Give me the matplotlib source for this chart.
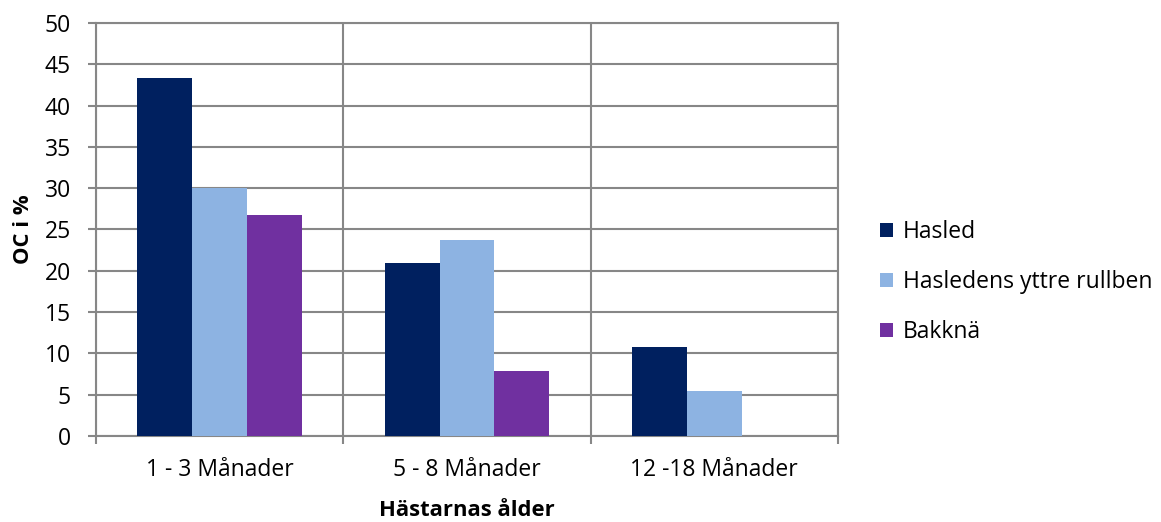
import matplotlib
matplotlib.use("Agg")
import matplotlib.pyplot as plt
import numpy as np

categories = ["1 - 3 Månader", "5 - 8 Månader", "12 -18 Månader"]
series_names = ["Hasled", "Hasledens yttre rullben", "Bakknä"]
hasled = [43.3, 21.0, 10.8]
yttre_rullben = [30.0, 23.7, 5.4]
bakkna = [26.7, 7.9, 0.0]
colors = ["#00205F", "#8DB3E2", "#7030A0"]

plt.rcParams['font.family'] = ['Open Sans', 'DejaVu Sans']

fig = plt.figure(figsize=(11.61, 5.22), dpi=100)
ax = fig.add_axes([96/1161, 86/522, (838-96)/1161, (436-23)/522])

x = np.arange(len(categories))
w = 1/4.5
grid_c = "#878787"
for i, (vals, name, c) in enumerate(zip([hasled, yttre_rullben, bakkna], series_names, colors)):
    ax.bar(x + (i-1)*w, vals, width=w, color=c, label=name, zorder=3)

fs = 16.5
ax.set_xlim(-0.5, len(categories)-0.5)
ax.set_ylim(0, 50)
ax.set_yticks(np.arange(0, 51, 5))
ax.set_xticks(x)
ax.set_xticklabels(categories, fontsize=fs)
ax.set_xticks(np.arange(-0.5, len(categories), 1), minor=True)
ax.tick_params(axis='x', which='major', length=0, pad=16)
ax.tick_params(axis='x', which='minor', length=6, width=1.5, color=grid_c, direction='out')
ax.tick_params(axis='y', length=6, width=1.5, color=grid_c, labelsize=fs, pad=12)
ax.grid(axis='y', which='major', color=grid_c, linewidth=1.5, zorder=0)
ax.grid(axis='x', which='minor', color=grid_c, linewidth=1.5, zorder=0)
ax.set_axisbelow(True)
for s in ax.spines.values():
    s.set_color(grid_c)
    s.set_linewidth(1.5)

ax.set_ylabel("OC i %", fontsize=15.8, fontweight='bold', labelpad=8)
ax.set_xlabel("Hästarnas ålder", fontsize=15.8, fontweight='bold', labelpad=13)

fig.legend(loc='center left', bbox_to_anchor=(880/1161, 1-282/522), frameon=False,
           fontsize=fs, labelspacing=1.12, handlelength=0.57, handleheight=0.57,
           handletextpad=0.44, borderaxespad=0, borderpad=0)

fig.savefig("out.png", dpi=100)
